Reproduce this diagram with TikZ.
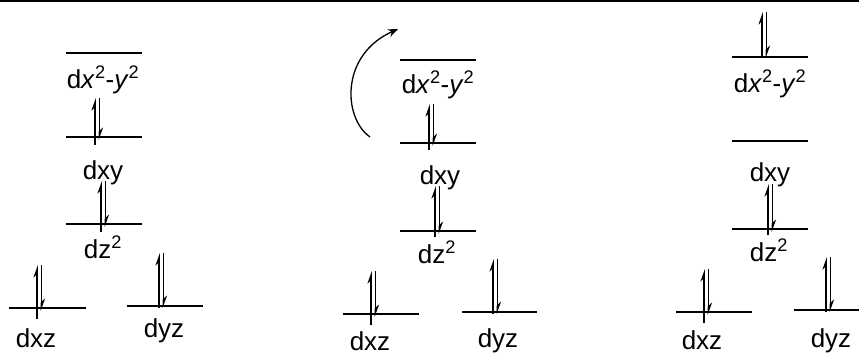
\documentclass[tikz,border=0pt]{standalone}
\usepackage{fontspec}
\setmainfont{Liberation Sans}
\usetikzlibrary{arrows.meta}

\begin{document}
\begin{tikzpicture}[x=1pt, y=-1pt, every node/.style={font=\fontsize{26}{30}\selectfont}]
    \tikzstyle{level} = [line width=1.3pt]
    \tikzstyle{orb} = [anchor=base, inner sep=0pt]
    \tikzstyle{spinup} = [line width=2.3pt, -{Stealth[left, length=10pt, width=7pt]}]
    \tikzstyle{spindown} = [line width=1.7pt, -{Stealth[left, length=10pt, width=7pt]}]
    \tikzstyle{arrow} = [line width=1.3pt, -{Stealth[length=10pt, width=8pt]}]

    \useasboundingbox (0,0) rectangle (859,354);
    \draw [line width=1.5pt] (0,0.75) -- (859,0.75);

    % left set
    \draw [level] (66,53) -- (142,53);
    \node [orb] (a-x2y2) at (103,88) {d\textit{x}\textsuperscript{2}-\textit{y}\textsuperscript{2}};
    \draw [level] (66,137) -- (142,137);
    \draw [spinup] (95,145) -- (95,98);
    \draw [spindown] (99.5,98) -- (99.5,140);
    \node [orb] (a-xy) at (103,179) {dxy};
    \draw [level] (66,224) -- (142,224);
    \draw [spinup] (101,232) -- (101,181);
    \draw [spindown] (105.5,181) -- (105.5,227);
    \node [orb] (a-z2) at (103,258) {dz\textsuperscript{2}};
    \draw [level] (9,308) -- (86,308);
    \draw [spinup] (37,319) -- (37,265);
    \draw [spindown] (41.5,265) -- (41.5,311);
    \node [orb] (a-xz) at (36,347) {dxz};
    \draw [level] (127,306) -- (203,306);
    \draw [spinup] (159,308) -- (159,253);
    \draw [spindown] (163.5,253) -- (163.5,308);
    \node [orb] (a-yz) at (164,337) {dyz};

    % middle set
    \draw [level] (400,60) -- (476,60);
    \node [orb] (b-x2y2) at (438,93) {d\textit{x}\textsuperscript{2}-\textit{y}\textsuperscript{2}};
    \draw [level] (400,143) -- (476,143);
    \draw [spinup] (429,150) -- (429,104);
    \draw [spindown] (433.5,104) -- (433.5,146);
    \node [orb] (b-xy) at (440,184) {dxy};
    \draw [level] (400,231) -- (476,231);
    \draw [spinup] (435,237) -- (435,186);
    \draw [spindown] (439.5,186) -- (439.5,234);
    \node [orb] (b-z2) at (437,263) {dz\textsuperscript{2}};
    \draw [level] (343,314) -- (419,314);
    \draw [spinup] (371,325) -- (371,271);
    \draw [spindown] (375.5,271) -- (375.5,317);
    \node [orb] (b-xz) at (370,350) {dxz};
    \draw [level] (462,312) -- (537,312);
    \draw [spinup] (493,314) -- (493,259);
    \draw [spindown] (497.5,259) -- (497.5,314);
    \node [orb] (b-yz) at (498,347) {dyz};

    \coordinate (rot-start) at (370,137);
    \coordinate (rot-end) at (398,29);
    \draw [arrow] (rot-start) .. controls (343,118) and (340,55) .. (rot-end);

    % right set
    \draw [level] (732,57) -- (808,57);
    \draw [spinup] (762,58) -- (762,12);
    \draw [spindown] (766.5,12) -- (766.5,58);
    \node [orb] (c-x2y2) at (770,92) {d\textit{x}\textsuperscript{2}-\textit{y}\textsuperscript{2}};
    \draw [level] (732,141) -- (808,141);
    \node [orb] (c-xy) at (770,181) {dxy};
    \draw [level] (732,229) -- (808,229);
    \draw [spinup] (768,235) -- (768,184);
    \draw [spindown] (772.5,184) -- (772.5,232);
    \node [orb] (c-z2) at (769,261) {dz\textsuperscript{2}};
    \draw [level] (676,312) -- (752,312);
    \draw [spinup] (704,323) -- (704,269);
    \draw [spindown] (708.5,269) -- (708.5,315);
    \node [orb] (c-xz) at (702,349) {dxz};
    \draw [level] (794,310) -- (859,310);
    \draw [spinup] (826,312) -- (826,257);
    \draw [spindown] (830.5,257) -- (830.5,312);
    \node [orb] (c-yz) at (831,347) {dyz};
\end{tikzpicture}
\end{document}
